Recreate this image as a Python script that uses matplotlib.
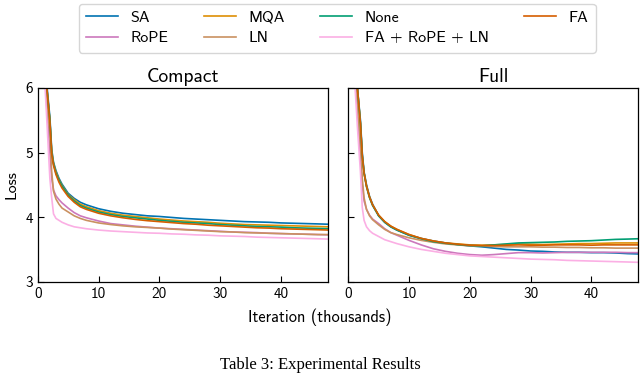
import matplotlib
matplotlib.use("Agg")
import matplotlib.pyplot as plt

plt.rcParams['font.family'] = ['cmss10', 'DejaVu Sans']
plt.rcParams['axes.unicode_minus'] = False

# iteration in thousands (shared grid for every run)
iters = [0.5, 1.0, 1.5, 2.0, 2.3, 2.6, 3.0, 3.5, 4, 5, 6, 7, 8, 10, 12, 14, 16, 18,
         20, 22, 24, 26, 28, 30, 32, 34, 36, 38, 40, 42, 44, 46, 47.7]

labels = ["SA", "RoPE", "MQA", "LN", "None", "FA + RoPE + LN", "FA"]
colors = ["#0173b2", "#cc78bc", "#de8f05", "#ca9161", "#029e73", "#fbafe4", "#d55e00"]

compact_sa = [8.0, 6.6, 6.05, 5.55, 5.05, 4.85, 4.72, 4.60, 4.51, 4.37, 4.29, 4.23, 4.19, 4.13, 4.09, 4.06, 4.04, 4.02,
              4.01, 3.995, 3.98, 3.97, 3.96, 3.95, 3.94, 3.93, 3.925, 3.92, 3.91, 3.905, 3.90, 3.895, 3.89]
compact_rope = [7.9, 6.5, 5.7, 5.0, 4.6, 4.42, 4.33, 4.27, 4.22, 4.14, 4.07, 4.02, 3.99, 3.94, 3.90, 3.88, 3.86, 3.845,
                3.83, 3.82, 3.81, 3.80, 3.79, 3.78, 3.77, 3.765, 3.76, 3.75, 3.745, 3.74, 3.735, 3.73, 3.725]
compact_mqa = [8.0, 6.5, 6.0, 5.5, 5.02, 4.83, 4.70, 4.58, 4.49, 4.35, 4.27, 4.20, 4.16, 4.10, 4.06, 4.03, 4.01, 3.99,
               3.97, 3.955, 3.94, 3.93, 3.92, 3.905, 3.895, 3.885, 3.88, 3.875, 3.87, 3.865, 3.86, 3.855, 3.85]
compact_ln = [7.9, 6.5, 5.8, 5.3, 4.7, 4.4, 4.28, 4.20, 4.14, 4.08, 4.02, 3.98, 3.95, 3.91, 3.885, 3.865, 3.85, 3.84,
              3.83, 3.815, 3.805, 3.795, 3.785, 3.775, 3.77, 3.76, 3.755, 3.75, 3.745, 3.74, 3.735, 3.73, 3.73]
compact_none = [8.0, 6.5, 6.0, 5.5, 5.0, 4.82, 4.68, 4.57, 4.48, 4.34, 4.25, 4.18, 4.14, 4.08, 4.04, 4.01, 3.99, 3.97,
                3.95, 3.935, 3.92, 3.91, 3.90, 3.885, 3.875, 3.865, 3.855, 3.85, 3.845, 3.835, 3.83, 3.825, 3.82]
compact_frl = [7.8, 6.4, 5.5, 4.6, 4.3, 4.05, 3.98, 3.95, 3.92, 3.88, 3.85, 3.835, 3.82, 3.80, 3.785, 3.775, 3.765, 3.755,
               3.75, 3.74, 3.735, 3.725, 3.72, 3.71, 3.705, 3.70, 3.69, 3.685, 3.68, 3.675, 3.67, 3.665, 3.66]
compact_fa = [8.0, 6.5, 6.0, 5.48, 4.98, 4.80, 4.66, 4.54, 4.45, 4.32, 4.23, 4.16, 4.12, 4.06, 4.02, 3.99, 3.965, 3.945,
              3.93, 3.915, 3.90, 3.89, 3.875, 3.865, 3.855, 3.845, 3.835, 3.83, 3.82, 3.815, 3.81, 3.805, 3.80]

full_sa = [8.0, 6.6, 6.0, 5.5, 5.0, 4.7, 4.5, 4.32, 4.2, 4.02, 3.92, 3.85, 3.80, 3.72, 3.67, 3.63, 3.60, 3.575,
           3.555, 3.54, 3.52, 3.50, 3.49, 3.475, 3.47, 3.46, 3.455, 3.455, 3.45, 3.45, 3.445, 3.435, 3.43]
full_rope = [7.9, 6.4, 5.6, 4.9, 4.5, 4.25, 4.12, 4.03, 3.97, 3.90, 3.82, 3.76, 3.72, 3.64, 3.57, 3.51, 3.47, 3.44,
             3.42, 3.41, 3.42, 3.435, 3.45, 3.45, 3.445, 3.45, 3.455, 3.455, 3.455, 3.455, 3.455, 3.45, 3.45]
full_mqa = [8.0, 6.5, 6.0, 5.45, 4.95, 4.68, 4.48, 4.31, 4.19, 4.03, 3.93, 3.86, 3.81, 3.73, 3.67, 3.63, 3.60, 3.585,
            3.57, 3.565, 3.57, 3.575, 3.585, 3.58, 3.575, 3.58, 3.585, 3.59, 3.59, 3.595, 3.60, 3.60, 3.60]
full_ln = [7.9, 6.4, 5.7, 5.1, 4.6, 4.3, 4.12, 4.02, 3.96, 3.88, 3.81, 3.76, 3.73, 3.68, 3.64, 3.61, 3.585, 3.57,
           3.555, 3.55, 3.545, 3.54, 3.54, 3.54, 3.535, 3.535, 3.53, 3.53, 3.525, 3.525, 3.52, 3.52, 3.52]
full_none = [8.0, 6.5, 6.0, 5.45, 4.95, 4.68, 4.47, 4.30, 4.18, 4.02, 3.92, 3.85, 3.80, 3.72, 3.665, 3.62, 3.595, 3.575,
             3.56, 3.555, 3.57, 3.585, 3.60, 3.605, 3.61, 3.615, 3.625, 3.63, 3.635, 3.645, 3.655, 3.66, 3.665]
full_frl = [7.7, 6.2, 5.4, 4.7, 4.15, 3.95, 3.85, 3.79, 3.75, 3.70, 3.65, 3.62, 3.59, 3.54, 3.50, 3.47, 3.44, 3.42,
            3.40, 3.39, 3.38, 3.37, 3.36, 3.35, 3.345, 3.34, 3.33, 3.325, 3.32, 3.315, 3.31, 3.305, 3.30]
full_fa = [8.0, 6.5, 6.0, 5.45, 4.95, 4.68, 4.48, 4.31, 4.19, 4.03, 3.93, 3.86, 3.81, 3.73, 3.67, 3.63, 3.60, 3.58,
           3.565, 3.56, 3.56, 3.565, 3.57, 3.565, 3.565, 3.57, 3.57, 3.57, 3.565, 3.57, 3.57, 3.57, 3.57]

compact = [compact_sa, compact_rope, compact_mqa, compact_ln, compact_none, compact_frl, compact_fa]
full = [full_sa, full_rope, full_mqa, full_ln, full_none, full_frl, full_fa]

fig = plt.figure(figsize=(6.4, 3.73), dpi=100)
ax1 = fig.add_axes([0.0589, 0.2448, 0.4536, 0.5193])
ax2 = fig.add_axes([0.5442, 0.2448, 0.4527, 0.5193])

for ax, runs, title in [(ax1, compact, "Compact"), (ax2, full, "Full")]:
    for y, lab, c in zip(runs, labels, colors):
        ax.plot(iters, y, color=c, lw=1.2, label=lab)
    ax.set_xlim(0, 47.7)
    ax.set_ylim(3, 6)
    ax.set_xticks([0, 10, 20, 30, 40])
    ax.set_yticks([3, 4, 5, 6])
    ax.tick_params(direction='in', labelsize=11, length=4, width=0.8)
    ax.set_title(title, fontsize=14, pad=4)
    for s in ax.spines.values():
        s.set_linewidth(0.9)

ax2.tick_params(labelleft=False)
ax1.set_ylabel("Loss", fontsize=11.5, labelpad=5)
fig.text(0.5, 0.15, "Iteration (thousands)", ha='center', va='center', fontsize=11.8)

handles, labs = ax1.get_legend_handles_labels()
fig.legend(handles, labs, ncol=4, loc='upper center', bbox_to_anchor=(0.527, 1.012),
           fontsize=11.5, frameon=True, fancybox=True, edgecolor='#cccccc',
           handlelength=2.0, handletextpad=0.8, columnspacing=2.2, borderpad=0.45, labelspacing=0.4)

fig.text(0.5, 0.021, "Table 3: Experimental Results", ha='center', va='center',
         fontsize=12, family='Liberation Serif')

fig.savefig("out.png", dpi=100)
